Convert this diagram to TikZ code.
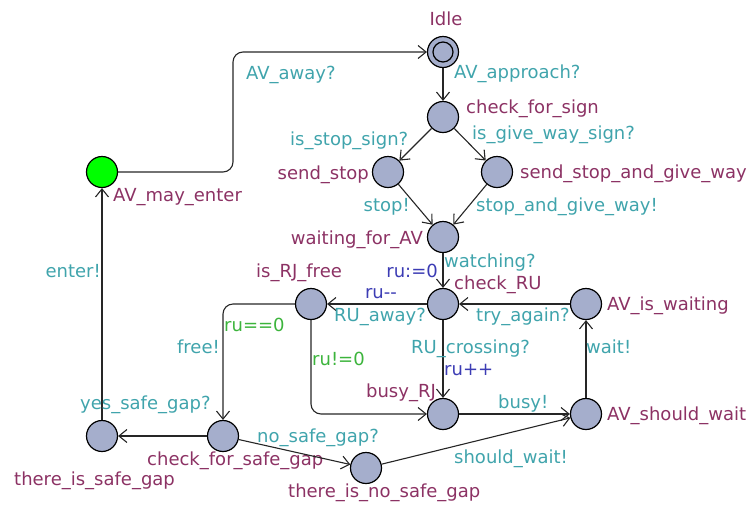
\documentclass[tikz,border=0pt]{standalone}
\usepackage{fontspec}
\setmainfont{DejaVu Sans}
\definecolor{locfill}{RGB}{165,174,204}
\definecolor{namecol}{RGB}{140,50,100}
\definecolor{synccol}{RGB}{64,164,172}
\definecolor{guardcol}{RGB}{60,180,60}
\definecolor{updcol}{RGB}{60,60,180}
\usetikzlibrary{arrows.meta}
\tikzset{
  loc/.style={circle, draw=black, fill=locfill, line width=1.2pt, minimum size=31pt, inner sep=0pt},
  locname/.style={text=namecol, inner sep=0pt},
  sync/.style={text=synccol, inner sep=0pt},
  guard/.style={text=guardcol, inner sep=0pt},
  upd/.style={text=updcol, inner sep=0pt},
  edge/.style={draw=black!85, line width=1.1pt, rounded corners=10pt, -{Straight Barb[length=8pt,width=13pt,line width=1.1pt]}}
}

\begin{document}
\begin{tikzpicture}[x=1pt, y=-1pt, font=\fontsize{18}{21}\selectfont]
  \useasboundingbox (0,0) rectangle (749,504);

  % Locations
  \node[loc] (idle) at (443,52) {};
  \node[circle, draw=black, line width=1.2pt, minimum size=20pt, inner sep=0pt] (idleinner) at (443,52) {};
  \node[loc] (sign) at (443,117) {};
  \node[loc] (stop) at (388,172) {};
  \node[loc] (giveway) at (497,172) {};
  \node[loc] (waitav) at (443,237) {};
  \node[loc] (checkru) at (443,304) {};
  \node[loc] (iswaiting) at (586,304) {};
  \node[loc] (rjfree) at (311,304) {};
  \node[loc] (busyrj) at (443,414) {};
  \node[loc] (shouldwait) at (586,414) {};
  \node[loc] (safegap) at (223,436) {};
  \node[loc] (yesgap) at (102,436) {};
  \node[loc] (nogap) at (366,468) {};
  \node[loc, fill=green] (mayenter) at (102,172) {};

  % Location names
  \node[locname, anchor=base] (nidle) at (446,25) {Idle};
  \node[locname, anchor=base west] (nsign) at (466,113) {check\_for\_sign};
  \node[locname, anchor=base east] (nstop) at (369,179) {send\_stop};
  \node[locname, anchor=base west] (ngiveway) at (520,178) {send\_stop\_and\_give\_way};
  \node[locname, anchor=base east] (nwaitav) at (423,244) {waiting\_for\_AV};
  \node[locname, anchor=base west] (ncheckru) at (454,289) {check\_RU};
  \node[locname, anchor=base west] (niswaiting) at (607,310) {AV\_is\_waiting};
  \node[locname, anchor=base west] (nrjfree) at (256,277) {is\_RJ\_free};
  \node[locname, anchor=base east] (nbusyrj) at (436,397) {busy\_RJ};
  \node[locname, anchor=base west] (nshouldwait) at (607,420) {AV\_should\_wait};
  \node[locname, anchor=base west] (nsafegap) at (147,465) {check\_for\_safe\_gap};
  \node[locname, anchor=base west] (nyesgap) at (14,485) {there\_is\_safe\_gap};
  \node[locname, anchor=base west] (nnogap) at (288,497) {there\_is\_no\_safe\_gap};
  \node[locname, anchor=base west] (nmayenter) at (113,201) {AV\_may\_enter};

  % Edges
  \draw[edge] (mayenter) -- (233,172) -- (233,52) -- (idle);
  \draw[edge] (idle) -- (sign);
  \draw[edge] (sign) -- (stop);
  \draw[edge] (sign) -- (giveway);
  \draw[edge] (stop) -- (waitav);
  \draw[edge] (giveway) -- (waitav);
  \draw[edge] (waitav) -- (checkru);
  \draw[edge] (checkru) -- (rjfree);
  \draw[edge] (iswaiting) -- (checkru);
  \draw[edge] (checkru) -- (busyrj);
  \draw[edge] (rjfree) -- (223,304) -- (safegap);
  \draw[edge] (rjfree) -- (311,414) -- (busyrj);
  \draw[edge] (busyrj) -- (shouldwait);
  \draw[edge] (shouldwait) -- (iswaiting);
  \draw[edge] (safegap) -- (yesgap);
  \draw[edge] (safegap) -- (nogap);
  \draw[edge] (nogap) -- (shouldwait);
  \draw[edge] (yesgap) -- (mayenter);

  % Edge labels
  \node[sync, anchor=base west] (laway) at (246,79) {AV\_away?};
  \node[sync, anchor=base west] (lapproach) at (454,78) {AV\_approach?};
  \node[sync, anchor=base west] (lstopsign) at (290,145) {is\_stop\_sign?};
  \node[sync, anchor=base west] (lgiveway) at (472,139) {is\_give\_way\_sign?};
  \node[sync, anchor=base east] (lstop) at (410,211) {stop!};
  \node[sync, anchor=base west] (lstopgive) at (476,211) {stop\_and\_give\_way!};
  \node[sync, anchor=base west] (lwatching) at (444,267) {watching?};
  \node[upd, anchor=base east] (lru0) at (438,277) {ru:=0};
  \node[upd, anchor=base east] (lrudec) at (397,298) {ru{-}{-}};
  \node[sync, anchor=base west] (lruaway) at (334,321) {RU\_away?};
  \node[sync, anchor=base west] (ltryagain) at (476,321) {try\_again?};
  \node[sync, anchor=base west] (lcrossing) at (411,353) {RU\_crossing?};
  \node[upd, anchor=base west] (lruinc) at (444,375) {ru++};
  \node[guard, anchor=base west] (lfree0) at (224,331) {ru==0};
  \node[sync, anchor=base east] (lfree) at (220,353) {free!};
  \node[guard, anchor=base west] (lbusy0) at (312,365) {ru!=0};
  \node[sync, anchor=base west] (lbusy) at (498,408) {busy!};
  \node[sync, anchor=base west] (lwait) at (586,353) {wait!};
  \node[sync, anchor=base west] (lyesgap) at (80,409) {yes\_safe\_gap?};
  \node[sync, anchor=base west] (lnogap) at (257,442) {no\_safe\_gap?};
  \node[sync, anchor=base west] (lshouldwait) at (454,463) {should\_wait!};
  \node[sync, anchor=base east] (lenter) at (101,277) {enter!};
\end{tikzpicture}
\end{document}
